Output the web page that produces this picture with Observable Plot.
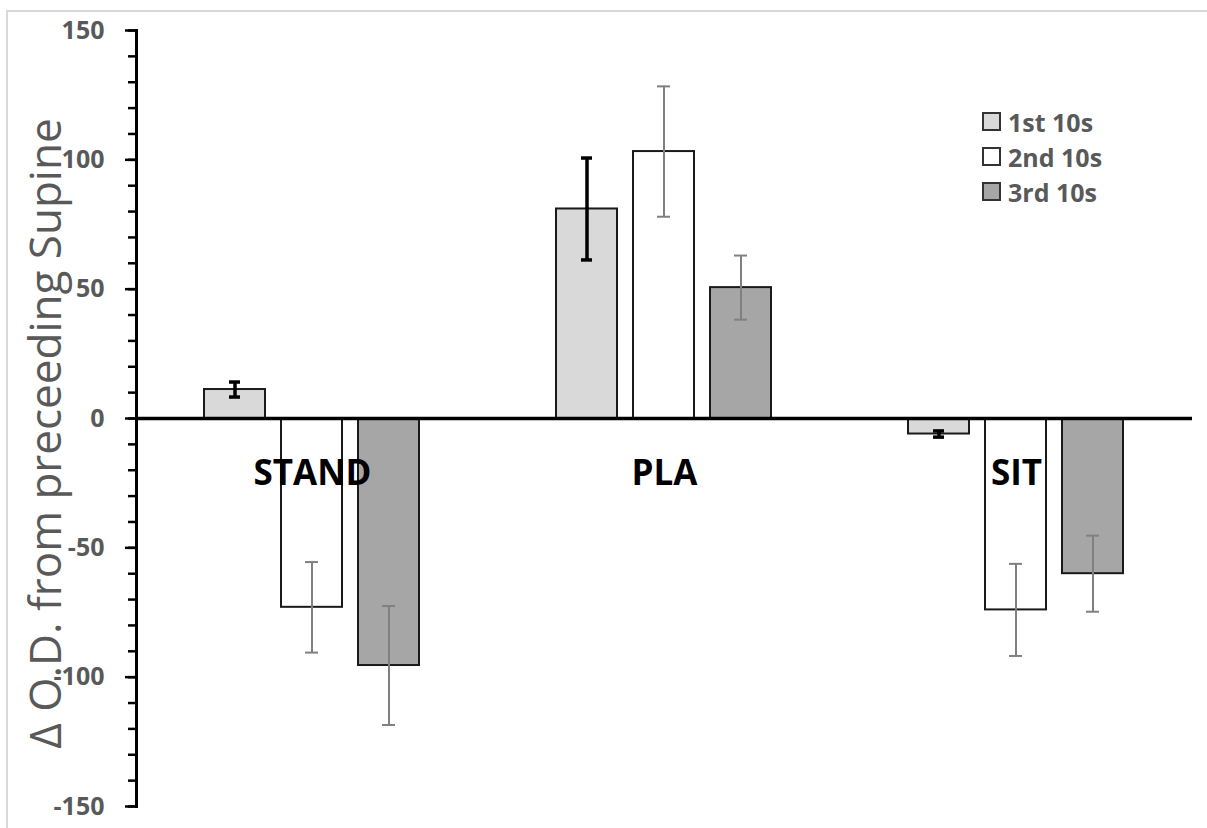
<!DOCTYPE html>
<html>
<head>
<meta charset="utf-8">
<script src="https://cdn.jsdelivr.net/npm/d3@7"></script>
<script src="https://cdn.jsdelivr.net/npm/@observablehq/plot@0.6"></script>
<style>
  html, body { margin: 0; padding: 0; background: #fff; }
  #wrap { position: relative; width: 1207px; height: 828px; overflow: hidden; }
  #border { position: absolute; left: 6px; top: 10px; width: 1300px; height: 900px;
            border-top: 2px solid #d9d9d9; border-left: 2px solid #d9d9d9; }
  #legend { position: absolute; left: 982px; top: 104px; font-family: "Open Sans", sans-serif;
            font-weight: bold; font-size: 25px; color: #595959; }
  .item { display: flex; align-items: center; height: 35px; }
  .sw { width: 15px; height: 15px; border: 2px solid #333; margin-right: 7px; }
  svg { position: absolute; left: 0; top: 0; }
</style>
</head>
<body>
<div id="wrap"><div id="border"></div><div id="chart"></div><div id="legend"></div></div>
<script>
const groups = ["STAND", "PLA", "SIT"];
const series = ["1st 10s", "2nd 10s", "3rd 10s"];
const seriesColors = ["#d9d9d9", "#ffffff", "#a6a6a6"];
const standValues = [11.2, -73, -95.5];
const standErrors = [2.9, 17.5, 23];
const plaValues = [81, 103.2, 50.6];
const plaErrors = [19.7, 25.2, 12.4];
const sitValues = [-6, -74, -60];
const sitErrors = [1.2, 17.8, 14.7];
const yTicks = [-150, -100, -50, 0, 50, 100, 150];
const yMinorTicks = d3.range(-150, 151, 10);
const yTitle = "Δ O.D. from preceeding Supine";

const valueSets = [standValues, plaValues, sitValues];
const errorSets = [standErrors, plaErrors, sitErrors];
const rows = [];
groups.forEach((g, gi) => series.forEach((s, si) => rows.push({
  group: g, series: s, value: valueSets[gi][si], err: errorSets[gi][si]
})));
const firstRows = rows.filter(d => d.series === series[0]);
const otherRows = rows.filter(d => d.series !== series[0]);

const chart = Plot.plot({
  width: 1207,
  height: 828,
  marginLeft: 135,
  marginRight: 14,
  marginTop: 30,
  marginBottom: 22,
  style: { fontFamily: "Open Sans, sans-serif", background: "transparent" },
  fx: { domain: groups, padding: 0, axis: null },
  x: { domain: series, paddingInner: 0.205, paddingOuter: 0.861, axis: null },
  y: { domain: [-150, 150] },
  color: { domain: series, range: seriesColors },
  marks: [
    Plot.barY(rows, { fx: "group", x: "series", y: "value", fill: "series", stroke: "#1a1a1a", strokeWidth: 2 }),
    Plot.ruleX(otherRows, { fx: "group", x: "series", y1: d => d.value - d.err, y2: d => d.value + d.err, stroke: "#808080", strokeWidth: 2 }),
    Plot.tickY(otherRows, { fx: "group", x: "series", y: d => d.value - d.err, stroke: "#808080", strokeWidth: 2, inset: 24 }),
    Plot.tickY(otherRows, { fx: "group", x: "series", y: d => d.value + d.err, stroke: "#808080", strokeWidth: 2, inset: 24 }),
    Plot.ruleX(firstRows, { fx: "group", x: "series", y1: d => d.value - d.err, y2: d => d.value + d.err, stroke: "#000", strokeWidth: 3.5 }),
    Plot.tickY(firstRows, { fx: "group", x: "series", y: d => d.value - d.err, stroke: "#000", strokeWidth: 3.5, inset: 25 }),
    Plot.tickY(firstRows, { fx: "group", x: "series", y: d => d.value + d.err, stroke: "#000", strokeWidth: 3.5, inset: 25 }),
    Plot.ruleY([0], { stroke: "#000", strokeWidth: 3.5 }),
    Plot.text(groups, { fx: d => d, y: () => 0, text: d => d, dy: 55, fontSize: 35, fontWeight: "bold", fill: "#000" }),
    Plot.axisY({ ticks: yMinorTicks, tickSize: 8, text: null, label: null, stroke: "#000", strokeWidth: 2.5 }),
    Plot.axisY({ ticks: yTicks, tickSize: 11, tickPadding: 21, tickFormat: d => String(d), label: null,
                 fontSize: 25, fontWeight: "bold", fill: "#595959", stroke: "#000", strokeWidth: 2.5 }),
    Plot.frame({ anchor: "left", facetAnchor: "left", stroke: "#000", strokeWidth: 3 }),
    Plot.text([yTitle], { frameAnchor: "left", facetAnchor: "left", rotate: -90, dx: -90, dy: 15,
                          textAnchor: "middle", lineAnchor: "middle",
                          fontSize: 44, fill: "#595959", text: d => d })
  ]
});
document.getElementById("chart").appendChild(chart);

const legend = document.getElementById("legend");
series.forEach((s, i) => {
  const item = document.createElement("div");
  item.className = "item";
  const sw = document.createElement("div");
  sw.className = "sw";
  sw.style.background = seriesColors[i];
  const label = document.createElement("span");
  label.textContent = s;
  item.appendChild(sw);
  item.appendChild(label);
  legend.appendChild(item);
});
</script>
</body>
</html>
